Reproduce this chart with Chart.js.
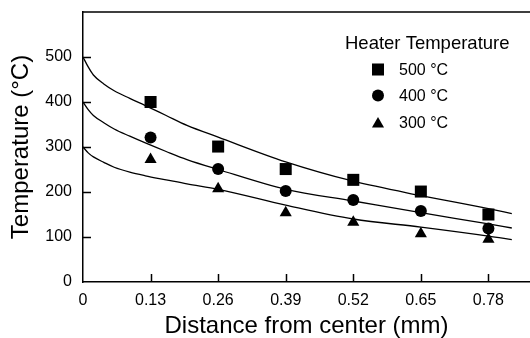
<!DOCTYPE html>
<html>
<head>
<meta charset="utf-8">
<script src="https://cdn.jsdelivr.net/npm/chart.js@4.4.1/dist/chart.umd.min.js"></script>
<style>
  html, body { margin: 0; padding: 0; background: #fff; overflow: hidden; }
  canvas { display: block; }
</style>
</head>
<body>
<canvas id="tempChart" width="530" height="338"></canvas>
<script>
// ======================
// Data
// ======================
const distances = [0.13, 0.26, 0.39, 0.52, 0.65, 0.78];
const temps500 = [400, 301, 251, 227, 201, 150];
const temps400 = [321, 251, 202, 182, 158, 119];
const temps300 = [272, 207, 154, 133, 107, 95];

// fitted curves
const fitDistances = [0, 0.01, 0.02, 0.04, 0.06, 0.09, 0.12, 0.16, 0.2, 0.26, 0.39, 0.52, 0.65, 0.78, 0.825];
const fit500 = [500, 478, 460, 440, 425, 408, 392, 370, 348, 322, 267, 224, 192, 163, 152];
const fit400 = [400, 383, 370, 354, 340, 324, 309, 290, 272, 250, 206, 180, 154, 129, 120];
const fit300 = [300, 287, 278, 266, 255, 244, 236, 227, 218, 206, 171, 140, 122, 102, 94];

const xTicks = [0, 0.13, 0.26, 0.39, 0.52, 0.65, 0.78];
const yTicks = [0, 100, 200, 300, 400, 500];
const legendTitle = 'Heater Temperature';
const legendLabels = ['500 °C', '400 °C', '300 °C'];

const FONT = '"Liberation Sans", Arial, Helvetica, sans-serif';
Chart.defaults.font.family = FONT;
Chart.defaults.color = '#000';

function toPoints(xs, ys) {
  return xs.map((x, i) => ({ x: x, y: ys[i] }));
}

function markerSet(label, ys, style, radius) {
  return {
    label: label,
    data: toPoints(distances, ys),
    pointStyle: style,
    pointRadius: radius,
    pointHoverRadius: radius,
    backgroundColor: '#000',
    borderColor: '#000',
    borderWidth: 0,
    showLine: false,
    order: 0
  };
}

function curveSet(ys) {
  return {
    data: toPoints(fitDistances, ys),
    showLine: true,
    pointRadius: 0,
    borderColor: '#000',
    borderWidth: 1.3,
    cubicInterpolationMode: 'monotone',
    fill: false,
    order: 1
  };
}

const markerSets = [
  markerSet(legendLabels[0], temps500, 'rect', 8.5),
  markerSet(legendLabels[1], temps400, 'circle', 6),
  markerSet(legendLabels[2], temps300, 'triangle', 7)
];

// no extra room for edge labels, the frame fills the canvas
function noEdgePadding(s) {
  s.paddingLeft = 0;
  s.paddingRight = 0;
  s.paddingTop = 0;
  s.paddingBottom = 0;
}

// ======================
// Plugins: inner tick marks, top frame, legend
// ======================
const frameTicks = {
  id: 'frameTicks',
  afterDraw(chart) {
    const { ctx, chartArea, scales } = chart;
    ctx.save();
    ctx.strokeStyle = '#000';
    ctx.lineWidth = 1.5;
    ctx.beginPath();
    ctx.moveTo(chartArea.left, chartArea.top);
    ctx.lineTo(chartArea.right, chartArea.top);
    xTicks.forEach(v => {
      if (v === 0) return;
      const x = Math.round(scales.x.getPixelForValue(v)) + 0.5;
      ctx.moveTo(x, chartArea.bottom);
      ctx.lineTo(x, chartArea.bottom - 8);
    });
    yTicks.forEach(v => {
      if (v === 0) return;
      const y = Math.round(scales.y.getPixelForValue(v)) + 0.5;
      ctx.moveTo(chartArea.left, y);
      ctx.lineTo(chartArea.left + 8, y);
    });
    ctx.stroke();
    ctx.restore();
  }
};

const heaterLegend = {
  id: 'heaterLegend',
  afterDraw(chart) {
    const ctx = chart.ctx;
    ctx.save();
    ctx.fillStyle = '#000';
    ctx.textBaseline = 'middle';
    ctx.textAlign = 'left';
    ctx.font = '18.5px ' + FONT;
    ctx.fillText(legendTitle, 345, 44);
    ctx.font = '16px ' + FONT;
    const rows = [69.5, 95.5, 122.5];
    markerSets.forEach((ds, i) => {
      Chart.helpers.drawPoint(ctx, {
        pointStyle: ds.pointStyle,
        rotation: 0,
        radius: ds.pointRadius,
        borderWidth: 0
      }, 378, rows[i] + (ds.pointStyle === 'triangle' ? 1.5 : 0));
      ctx.fillStyle = '#000';
      ctx.fillText(legendLabels[i], 399, rows[i] + 1);
    });
    ctx.restore();
  }
};

// ======================
// Chart
// ======================
new Chart(document.getElementById('tempChart'), {
  type: 'scatter',
  data: {
    datasets: markerSets.concat([curveSet(fit500), curveSet(fit400), curveSet(fit300)])
  },
  options: {
    responsive: false,
    animation: false,
    events: [],
    layout: { autoPadding: false, padding: { top: 12, right: 0, left: 0, bottom: 0 } },
    plugins: {
      legend: { display: false },
      tooltip: { enabled: false }
    },
    scales: {
      x: {
        type: 'linear',
        min: 0,
        max: 0.86,
        afterBuildTicks: s => { s.ticks = xTicks.map(v => ({ value: v })); },
        afterFit: s => { s.height = 56; noEdgePadding(s); },
        grid: { display: false, drawTicks: false },
        border: { display: true, color: '#000', width: 1.5 },
        ticks: {
          color: '#000',
          padding: 9,
          maxRotation: 0,
          autoSkip: false,
          font: { size: 16 },
          callback: v => (v === 0 ? '0' : v.toFixed(2))
        },
        title: {
          display: true,
          text: 'Distance from center (mm)',
          color: '#000',
          font: { size: 24, lineHeight: 1 },
          padding: { top: 0, bottom: 0 }
        }
      },
      y: {
        type: 'linear',
        min: 0,
        max: 600,
        afterBuildTicks: s => { s.ticks = yTicks.map(v => ({ value: v })); },
        afterFit: s => { s.width = 83; noEdgePadding(s); },
        grid: { display: false, drawTicks: false },
        border: { display: true, color: '#000', width: 1.5 },
        ticks: {
          color: '#000',
          padding: 11,
          font: { size: 16 }
        },
        title: {
          display: true,
          text: 'Temperature (°C)',
          color: '#000',
          font: { size: 24, lineHeight: 1 },
          padding: { top: 9, bottom: 0 }
        }
      }
    }
  },
  plugins: [frameTicks, heaterLegend]
});
</script>
</body>
</html>
